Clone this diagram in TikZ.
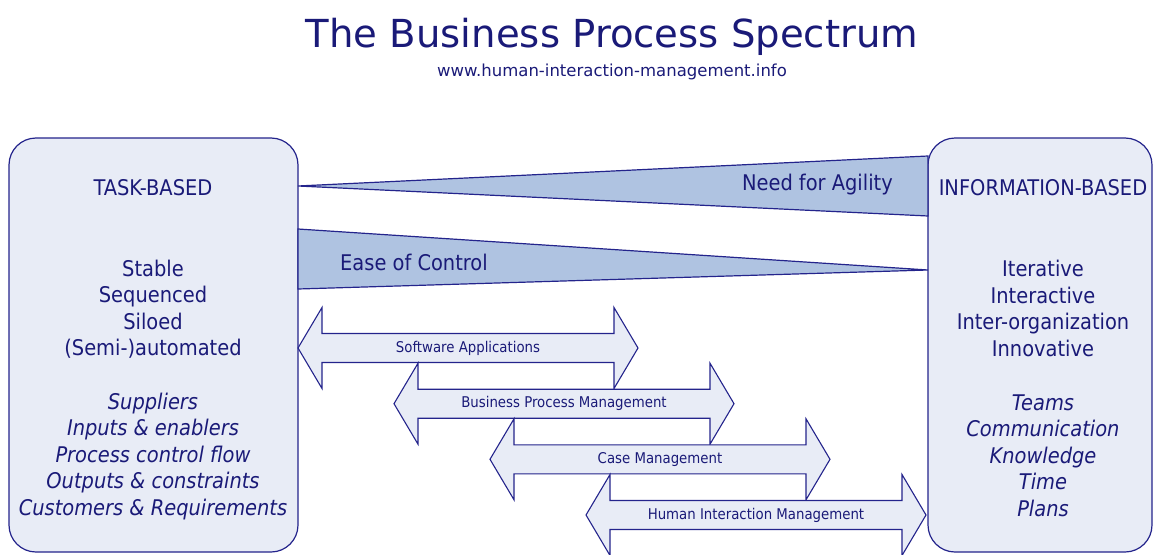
\documentclass[tikz,border=0pt]{standalone}
\usepackage{fontspec}
\setmainfont{DejaVu Sans Condensed}
\newfontfamily\titlefont{DejaVu Sans}
\definecolor{navy}{RGB}{36,36,140}
\definecolor{txt}{RGB}{26,26,120}
\definecolor{boxfill}{RGB}{232,236,246}
\definecolor{trifill}{RGB}{175,195,225}
\tikzset{
  panel/.style={draw=navy, fill=boxfill, line width=1.2pt, rounded corners=27pt},
  wedge/.style={draw=navy, fill=trifill, line width=1.2pt, line join=miter},
  dblarr/.style={draw=navy, fill=boxfill, line width=1.1pt, line join=miter},
  lbl/.style={text=txt, inner sep=0pt, font=\fontsize{21.6}{26.5}\selectfont, align=center},
  ilbl/.style={lbl, font=\fontsize{21.6}{26.5}\selectfont\itshape},
  albl/.style={text=txt, inner sep=0pt, font=\fontsize{14.8}{16}\selectfont},
}
\newcommand{\dblarrow}[4]{% name, left x, center y, label
  \path[dblarr] (#2,#3) -- ++(24,-40.5) -- ++(0,26) -- ++(292,0) -- ++(0,-26)
     -- ++(24,40.5) -- ++(-24,40.5) -- ++(0,-26) -- ++(-292,0) -- ++(0,26) -- cycle;
  \node[albl] (#1) at ({#2+170},#3) {#4};
}
\begin{document}
\begin{tikzpicture}[x=1pt,y=-1pt]
\useasboundingbox (0,0) rectangle (1153,554);
% title
\node[text=txt, inner sep=0pt, font=\titlefont\fontsize{38.6}{40}\selectfont, anchor=base] (title) at (612,47) {The Business Process Spectrum};
\node[text=txt, inner sep=0pt, font=\titlefont\fontsize{16.5}{18}\selectfont, anchor=base] (url) at (612,76) {www.human-interaction-management.info};
% panels
\path[panel] (9,138) rectangle (298,552);
\path[panel] (928,138) rectangle (1152,552);
% wedges
\path[wedge] (298,186) -- (928,156) -- (928,216) -- cycle;
\path[wedge] (298,229) -- (298,289) -- (928,270) -- cycle;
\node[lbl, anchor=east] (need) at (893,185) {Need for Agility};
\node[lbl, anchor=west] (ease) at (340,262) {Ease of Control};
% arrows
\dblarrow{sa}{298}{348}{Software Applications}
\dblarrow{bpm}{394}{403.7}{Business Process Management}
\dblarrow{cm}{490}{459.3}{Case Management}
\dblarrow{him}{586}{515}{Human Interaction Management}
% left texts
\node[lbl] (tb) at (153,188) {TASK-BASED};
\node[lbl] (tb1) at (153,309) {Stable\\Sequenced\\Siloed\\(Semi-)automated};
\node[ilbl] (tb2) at (153,456.5) {Suppliers\\Inputs \& enablers\\Process control flow\\Outputs \& constraints\\Customers \& Requirements};
% right texts
\node[lbl] (ib) at (1043,188) {INFORMATION-BASED};
\node[lbl] (ib1) at (1043,308.5) {Iterative\\Interactive\\Inter-organization\\Innovative};
\node[ilbl] (ib2) at (1043,455.5) {Teams\\Communication\\Knowledge\\Time\\Plans};
\end{tikzpicture}
\end{document}
